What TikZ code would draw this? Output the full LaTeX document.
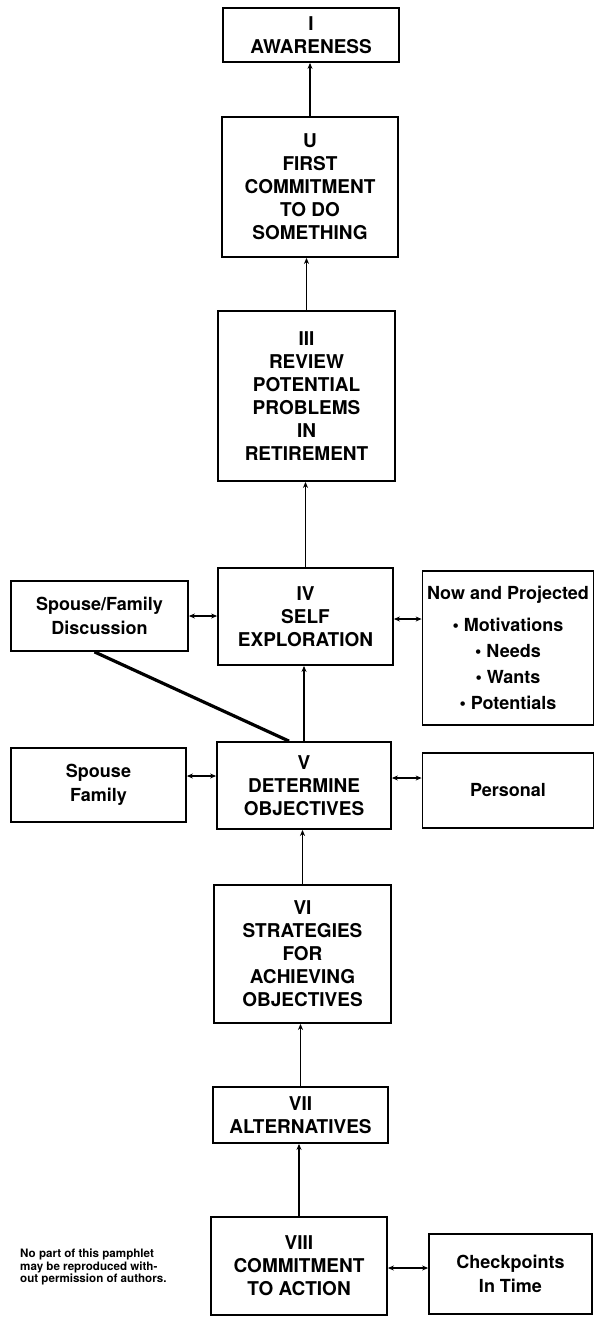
\documentclass[tikz,border=0pt]{standalone}
\usepackage{fontspec}
\setmainfont{TeX Gyre Heros}
\usetikzlibrary{arrows.meta}
\begin{document}
\begin{tikzpicture}[x=1pt,y=-1pt,
  box/.style={draw,line width=1.8pt,align=center,inner sep=0pt,font=\bfseries\fontsize{19}{23}\selectfont},
  side/.style={draw,line width=1.8pt,align=center,inner sep=0pt,font=\bfseries\fontsize{18}{24}\selectfont},
  link/.style={line width=1.9pt},
  up/.style={link,-{Stealth[length=6pt,width=5pt]}},
  both/.style={link,{Stealth[length=6pt,width=5pt]}-{Stealth[length=6pt,width=5pt]}},
  note/.style={align=left,inner sep=0pt,font=\bfseries\fontsize{11.6}{12.5}\selectfont}
  ]
\useasboundingbox (0,0) rectangle (595,1317);
\fill[white] (0,0) rectangle (595,1317);

\node[box,minimum width=176pt,minimum height=54pt] (I) at (311,35) {I\\AWARENESS};
\node[box,minimum width=176pt,minimum height=140pt] (II) at (310,187) {U\\FIRST\\COMMITMENT\\TO DO\\SOMETHING};
\node[box,minimum width=177pt,minimum height=170pt] (III) at (306.5,396) {III\\REVIEW\\POTENTIAL\\PROBLEMS\\IN\\RETIREMENT};
\node[box,minimum width=175pt,minimum height=97pt] (IV) at (305.5,616.5) {IV\\SELF\\EXPLORATION};
\node[side,minimum width=177pt,minimum height=70pt] (SFD) at (99.5,616) {Spouse/Family\\Discussion};
\node[side,minimum width=171pt,minimum height=154pt,font=\bfseries\fontsize{18}{26}\selectfont] (NP) at (508,648) {Now and Projected\\[6pt]• Motivations\\• Needs\\• Wants\\• Potentials};
\node[box,minimum width=174pt,minimum height=87pt] (V) at (304,785.5) {V\\DETERMINE\\OBJECTIVES};
\node[side,minimum width=175pt,minimum height=74pt] (SF) at (98.5,785) {Spouse\\Family};
\node[side,minimum width=171pt,minimum height=75pt] (P) at (508,790.5) {Personal};
\node[box,minimum width=177pt,minimum height=138pt] (VI) at (302.5,954) {VI\\STRATEGIES\\FOR\\ACHIEVING\\OBJECTIVES};
\node[box,minimum width=175pt,minimum height=56pt] (VII) at (300.5,1115) {VII\\ALTERNATIVES};
\node[box,minimum width=176pt,minimum height=98pt] (VIII) at (299,1266) {VIII\\COMMITMENT\\TO ACTION};
\node[side,minimum width=163pt,minimum height=80pt] (CT) at (510.5,1274) {Checkpoints\\In Time};

\node[note,anchor=west] (N) at (20,1267) {No part of this pamphlet\\may be reproduced with-\\out permission of authors.};

% vertical connectors (arrow into upper box)
\draw[up] (II.north) -- (II.north |- I.south);
\draw[up] (III.north) -- (III.north |- II.south);
\draw[up] (IV.north) -- (IV.north |- III.south);
\draw[up] (V.north) -- (V.north |- IV.south);
\draw[up] (VI.north) -- (VI.north |- V.south);
\draw[up] (VII.north) -- (VII.north |- VI.south);
\draw[up] (VIII.north) -- (VIII.north |- VII.south);

% horizontal connectors
\draw[both] (SFD.east) -- (SFD.east -| IV.west);
\draw[both] (IV.east |- 0,619) -- (NP.west |- 0,619);
\draw[both] (SF.east |- 0,776) -- (V.west |- 0,776);
\draw[both] (V.east |- 0,778) -- (P.west |- 0,778);
\draw[both] (VIII.east |- 0,1268) -- (CT.west |- 0,1268);

% thick diagonal
\draw[line width=3.2pt] ([xshift=-5pt]SFD.south) -- ([xshift=-15pt]V.north);
\end{tikzpicture}
\end{document}
